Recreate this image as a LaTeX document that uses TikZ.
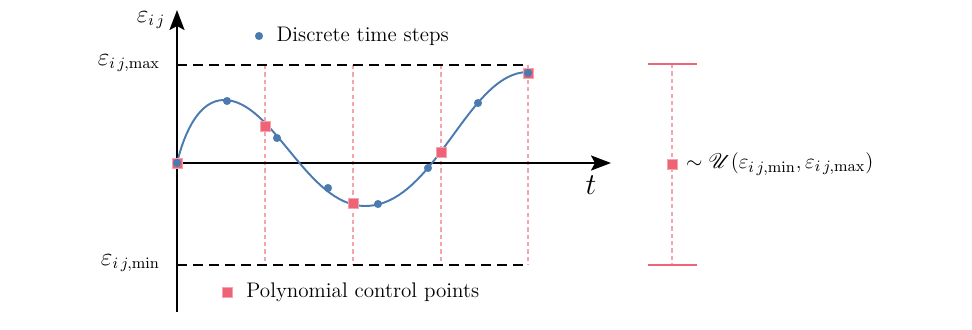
\documentclass[tikz,border=0pt]{standalone}
\usepackage{amsmath,mathrsfs}
\usetikzlibrary{arrows.meta, positioning}
\definecolor{cblue}{HTML}{4A7AB0}
\definecolor{cred}{HTML}{EF6377}
\definecolor{cpink}{HTML}{F5A3AD}
\tikzset{
  every picture/.style={line width=1.4pt},
  axis/.style={-{Stealth[length=4mm, width=3mm, inset=0.8mm]}, draw=black},
  bound/.style={draw=black, dash pattern=on 5.7pt off 3.4pt},
  vline/.style={draw=cpink, line width=0.9pt, dash pattern=on 2.4pt off 1.8pt},
  signal/.style={draw=cblue, line width=1.1pt},
  tstep/.style={circle, fill=cblue, inner sep=0pt, minimum size=4.6pt},
  cpoint/.style={rectangle, fill=cred, draw=cpink, line width=0.3pt, inner sep=0pt, minimum size=5.8pt},
  lbl/.style={font=\large},
  mlbl/.style={font=\fontsize{13.5}{16}\selectfont},
}

\begin{document}
\begin{tikzpicture}[x=0.02cm, y=-0.02cm]
  \useasboundingbox (0,0) rectangle (972,329);
  % axes
  \coordinate (O) at (177,163);
  \coordinate (ybot) at (177,312);
  \coordinate (ytop) at (177,10);
  \coordinate (xend) at (611,163);
  % grid of control times
  \foreach \x [count=\i] in {265,353,441,528} {
    \coordinate (top\i) at (\x,65);
    \coordinate (bot\i) at (\x,265);
    \draw[vline] (top\i) -- (bot\i);
  }
  \coordinate (maxl) at (177,65);
  \coordinate (minl) at (177,265);
  \draw[bound] (maxl) -- (top4);
  \draw[bound] (minl) -- (bot4);
  \draw[axis] (ybot) -- (ytop);
  \draw[axis] (O) -- (xend);
  \node[mlbl] (yname) at (151,20) {$\varepsilon_{i\,j}$};
  \node[mlbl, anchor=east] (ymax) at (167,63) {$\varepsilon_{i\,j,\mathrm{max}}$};
  \node[mlbl, anchor=east] (ymin) at (167,263) {$\varepsilon_{i\,j,\mathrm{min}}$};
  \node[font=\LARGE] (tname) at (591,185) {$t$};
  % curve, control points and time steps
  \draw[signal] (O) .. controls (185,130) and (200,100) .. (224,100)
    .. controls (273,100) and (307,206) .. (365,206)
    .. controls (435,206) and (468,72) .. (528,72);
  \foreach \x/\y [count=\i] in {177/163, 265/126, 353/203, 441/152, 528/73}
    \node[cpoint] (c\i) at (\x,\y) {};
  \foreach \x/\y [count=\i] in {177/163, 227/101, 277/138, 328/188, 378/204, 428/168, 478/103, 528/73}
    \node[tstep] (s\i) at (\x,\y) {};
  % legend
  \node[tstep] (ldot) at (259,36) {};
  \node[lbl, right=3pt of ldot] (ldottext) {Discrete time steps};
  \node[cpoint] (lsq) at (227,292) {};
  \node[lbl, right=4pt of lsq] (lsqtext) {Polynomial control points};
  % sampling range
  \coordinate (rtop) at (672,64);
  \coordinate (rbot) at (672,265);
  \coordinate (rtl) at (648,64);
  \coordinate (rtr) at (697,64);
  \coordinate (rbl) at (648,265);
  \coordinate (rbr) at (697,265);
  \draw[vline] (rtop) -- (rbot);
  \draw[draw=cred, line width=1.1pt] (rtl) -- (rtr);
  \draw[draw=cred, line width=1.1pt] (rbl) -- (rbr);
  \node[cpoint] (rsq) at (672,164) {};
  \node[font=\fontsize{13}{15}\selectfont, right=1pt of rsq] (rdist) {$\sim\mathscr{U}(\varepsilon_{i\,j,\mathrm{min}},\varepsilon_{i\,j,\mathrm{max}})$};
\end{tikzpicture}
\end{document}
